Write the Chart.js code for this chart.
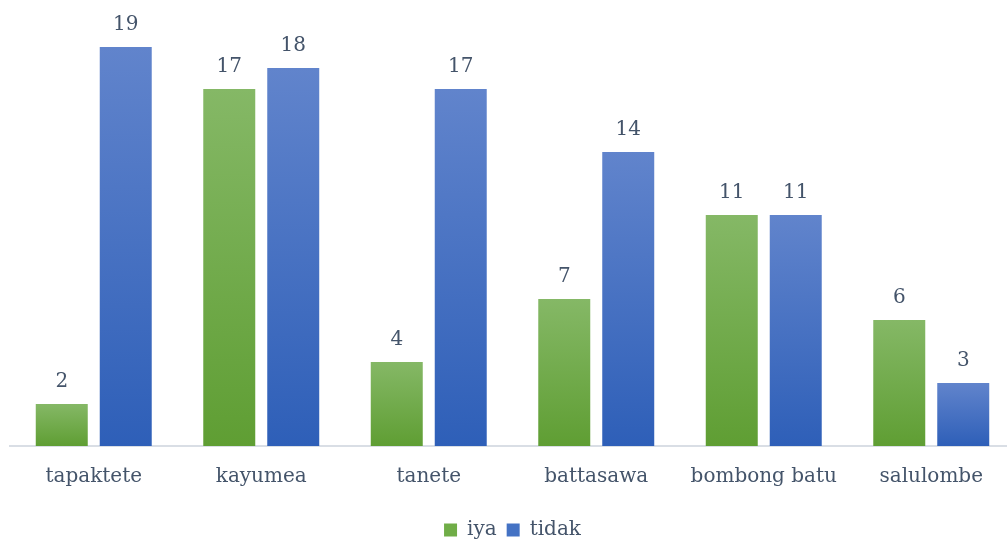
<!DOCTYPE html>
<html>
<head>
<meta charset="utf-8">
<script src="https://cdn.jsdelivr.net/npm/chart.js@4"></script>
<style>
  html, body { margin: 0; padding: 0; overflow: hidden; background: #ffffff; }
  #wrap { width: 1015px; height: 545px; }
</style>
</head>
<body>
<div id="wrap"><canvas id="c" width="1015" height="545"></canvas></div>
<script>
// Village names along the x axis
const categories = ['tapaktete', 'kayumea', 'tanete', 'battasawa', 'bombong batu', 'salulombe'];
// Answer counts per village
const iyaValues = [2, 17, 4, 7, 11, 6];
const tidakValues = [19, 18, 17, 14, 11, 3];
const seriesNames = ['iya', 'tidak'];

const TEXT_COLOR = '#44546a';
const FONT_FAMILY = '"DejaVu Serif", serif';
const FONT_SIZE = 20;

// Vertical gradient per bar, light at the top, darker at the base
function barGradient(top, bottom) {
  return (ctx) => {
    const chart = ctx.chart;
    const y = chart.scales && chart.scales.y;
    if (!y || ctx.raw === undefined || y.top === undefined) return bottom;
    const yTop = y.getPixelForValue(ctx.raw);
    const yBase = y.getPixelForValue(0);
    if (!isFinite(yTop) || !isFinite(yBase) || yTop === yBase) return bottom;
    const g = chart.ctx.createLinearGradient(0, yTop, 0, yBase);
    g.addColorStop(0, top);
    g.addColorStop(1, bottom);
    return g;
  };
}

// Value labels above each bar
const valueLabels = {
  id: 'valueLabels',
  afterDatasetsDraw(chart) {
    const ctx = chart.ctx;
    ctx.save();
    ctx.font = FONT_SIZE + 'px ' + FONT_FAMILY;
    ctx.fillStyle = TEXT_COLOR;
    ctx.textAlign = 'center';
    ctx.textBaseline = 'alphabetic';
    chart.data.datasets.forEach((ds, di) => {
      const meta = chart.getDatasetMeta(di);
      meta.data.forEach((el, i) => {
        ctx.fillText(String(ds.data[i]), el.x, el.y - 17);
      });
    });
    ctx.restore();
  }
};

new Chart(document.getElementById('c'), {
  type: 'bar',
  data: {
    labels: categories,
    datasets: [
      {
        label: seriesNames[0],
        data: iyaValues,
        backgroundColor: barGradient('#85b866', '#5f9e33'),
        borderWidth: 0
      },
      {
        label: seriesNames[1],
        data: tidakValues,
        backgroundColor: barGradient('#6184cc', '#2e5fb8'),
        borderWidth: 0
      }
    ]
  },
  options: {
    responsive: false,
    animation: false,
    categoryPercentage: 0.764,
    barPercentage: 0.8125,
    layout: { padding: { left: 10, right: 0, top: 26, bottom: -5 } },
    plugins: {
      legend: {
        position: 'bottom',
        labels: {
          boxWidth: 13,
          boxHeight: 13,
          padding: 10,
          color: TEXT_COLOR,
          font: { family: FONT_FAMILY, size: FONT_SIZE },
          generateLabels(chart) {
            const fills = ['#70ad47', '#4472c4'];
            return chart.data.datasets.map((ds, i) => ({
              text: ds.label,
              fillStyle: fills[i],
              strokeStyle: fills[i],
              lineWidth: 0,
              hidden: false,
              datasetIndex: i,
              fontColor: TEXT_COLOR
            }));
          }
        }
      },
      tooltip: { enabled: false }
    },
    scales: {
      x: {
        grid: { display: false, drawTicks: false },
        border: { display: true, color: '#d9dee5', width: 2 },
        ticks: {
          color: TEXT_COLOR,
          padding: 19,
          font: { family: FONT_FAMILY, size: FONT_SIZE }
        },
        afterFit(scale) { scale.height = 64; }
      },
      y: {
        display: false,
        min: 0,
        max: 20
      }
    }
  },
  plugins: [valueLabels]
});
</script>
</body>
</html>
